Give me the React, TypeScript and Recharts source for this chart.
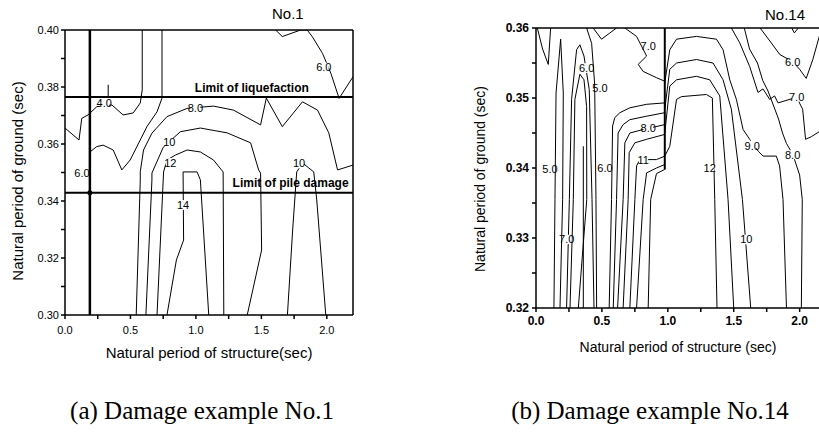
import { LineChart, Line, XAxis, YAxis, ReferenceLine, ReferenceDot } from 'recharts';

type P = [number, number];
type Lbl = [string, number, number];

const SANS = '"Liberation Sans", Arial, sans-serif';

// ---------- (a) No.1 : [natural period of structure, natural period of ground]
const n1_40: P[] = [[0, 0.3656], [0.107, 0.3614], [0.128, 0.369], [0.176, 0.3702], [0.243, 0.3731], [0.358, 0.3737], [0.444, 0.3702], [0.521, 0.3709], [0.575, 0.3744], [0.59, 0.379], [0.59, 0.4]];
const n1_60: P[] = [[0.19, 0.3572], [0.243, 0.3591], [0.291, 0.3596], [0.368, 0.3579], [0.434, 0.3509], [0.498, 0.3544], [0.626, 0.3661], [0.703, 0.3713], [0.741, 0.3761], [0.741, 0.4]];
const n1_80: P[] = [[0.544, 0.3], [0.559, 0.3228], [0.575, 0.3474], [0.575, 0.3503], [0.6, 0.3579], [0.664, 0.3638], [0.779, 0.3696], [0.933, 0.3725], [1.134, 0.3733], [1.287, 0.3719], [1.494, 0.3667], [1.538, 0.3761], [1.66, 0.3661], [1.814, 0.3748], [1.929, 0.3719], [2.015, 0.3639], [2.082, 0.3509], [2.2, 0.3526]];
const n1_100: P[] = [[0.618, 0.3], [0.664, 0.3474], [0.664, 0.3498], [0.751, 0.3589], [0.881, 0.3643], [1.034, 0.3656], [1.239, 0.3639], [1.418, 0.3604], [1.479, 0.3509], [1.494, 0.3498], [1.502, 0.3228], [1.392, 0.3]];
const n1_100b: P[] = [[1.699, 0.3], [1.739, 0.3298], [1.77, 0.3502], [1.816, 0.3533], [1.862, 0.3516], [1.9, 0.3502], [1.923, 0.3404], [1.992, 0.3]];
const n1_120: P[] = [[0.703, 0.3], [0.753, 0.3502], [0.779, 0.3544], [0.843, 0.3561], [0.933, 0.3579], [1.034, 0.3572], [1.134, 0.3544], [1.208, 0.3502], [1.213, 0.3]];
const n1_140: P[] = [[0.779, 0.3], [0.851, 0.3193], [0.906, 0.3263], [0.902, 0.3502], [1.009, 0.3502], [1.034, 0.3474], [1.098, 0.3]];
const n1_60top: P[] = [[1.609, 0.4], [1.66, 0.3977], [1.8, 0.4], [1.85, 0.4], [1.89, 0.3976], [1.967, 0.3918], [2.031, 0.3848], [2.094, 0.376], [2.2, 0.3836]];
const n1_stub: P[] = [[0.33, 0.3765], [0.33, 0.3808]];
const N1_LINES = [n1_40, n1_60, n1_80, n1_100, n1_100b, n1_120, n1_140, n1_60top, n1_stub];
const N1_LABELS: Lbl[] = [['4.0', 0.3, 0.3742], ['6.0', 0.13, 0.3498], ['8.0', 0.996, 0.3726], ['10', 0.797, 0.3607], ['12', 0.805, 0.3533], ['14', 0.902, 0.3386], ['10', 1.788, 0.3532], ['6.0', 1.977, 0.387]];
const N1_LIQ = 0.3765;
const N1_PILE = 0.3429;
const N1_TS = 0.19;
const N1_X_TICKS = [0, 0.25, 0.5, 0.75, 1, 1.25, 1.5, 1.75, 2];
const N1_Y_TICKS = [0.3, 0.31, 0.32, 0.33, 0.34, 0.35, 0.36, 0.37, 0.38, 0.39, 0.4];

// ---------- (b) No.14
const n14_v: P[] = [[0.01, 0.36], [0.05, 0.357], [0.093, 0.3548], [0.111, 0.36]];
const n14_a: P[] = [[0.136, 0.32], [0.144, 0.3355], [0.152, 0.3507], [0.187, 0.3584], [0.207, 0.3507], [0.202, 0.3355], [0.182, 0.32]];
const n14_60o: P[] = [[0.232, 0.32], [0.253, 0.3355], [0.27, 0.3498], [0.308, 0.3569], [0.333, 0.3576], [0.364, 0.356], [0.404, 0.3512], [0.425, 0.3355], [0.44, 0.32]];
const n14_60i: P[] = [[0.258, 0.32], [0.283, 0.3355], [0.295, 0.3498], [0.333, 0.3534], [0.364, 0.3526], [0.384, 0.3488], [0.385, 0.3355], [0.321, 0.32]];
const n14_spike: P[] = [[0.359, 0.32], [0.359, 0.3431]];
const n14_5top: P[] = [[0.434, 0.36], [0.497, 0.3584], [0.561, 0.3593], [0.611, 0.36]];
const n14_50: P[] = [[0.384, 0.36], [0.422, 0.3578], [0.445, 0.352], [0.455, 0.3355], [0.46, 0.32]];
const n14_70top: P[] = [[0.674, 0.36], [0.763, 0.3588], [0.839, 0.356], [0.775, 0.3548], [0.813, 0.3538], [0.914, 0.3529], [0.977, 0.3524]];
const n14_m1: P[] = [[0.555, 0.32], [0.573, 0.3355], [0.581, 0.346], [0.598, 0.3472], [0.636, 0.3479], [0.712, 0.3486], [0.839, 0.3491], [0.977, 0.3493]];
const n14_m2: P[] = [[0.586, 0.32], [0.611, 0.3355], [0.623, 0.345], [0.661, 0.3462], [0.712, 0.3469], [0.839, 0.3474], [0.977, 0.3479]];
const n14_m3: P[] = [[0.619, 0.32], [0.661, 0.3355], [0.674, 0.3436], [0.712, 0.345], [0.813, 0.3455], [0.977, 0.3462]];
const n14_m4: P[] = [[0.661, 0.32], [0.699, 0.3355], [0.707, 0.3422], [0.75, 0.3436], [0.839, 0.3441], [0.977, 0.3448]];
const n14_m5: P[] = [[0.712, 0.32], [0.75, 0.3355], [0.763, 0.3403], [0.788, 0.3412], [0.914, 0.3412], [0.977, 0.3417]];
const n14_m6: P[] = [[0.763, 0.32], [0.813, 0.3355], [0.839, 0.3393], [0.914, 0.34], [0.977, 0.3405]];
const n14_m7: P[] = [[0.851, 0.32], [0.87, 0.3355], [0.914, 0.3392], [0.977, 0.3398]];
const n14_a12: P[] = [[0.977, 0.3417], [1.015, 0.3431], [1.066, 0.3498], [1.104, 0.3502], [1.293, 0.3505], [1.338, 0.35], [1.356, 0.3355], [1.373, 0.32]];
const n14_a11: P[] = [[0.977, 0.345], [1.015, 0.3517], [1.066, 0.3526], [1.217, 0.3531], [1.318, 0.3526], [1.394, 0.3503], [1.457, 0.3355], [1.5, 0.32]];
const n14_a10: P[] = [[0.977, 0.3484], [1.015, 0.3541], [1.066, 0.355], [1.217, 0.3555], [1.343, 0.355], [1.419, 0.3526], [1.482, 0.3484], [1.566, 0.3355], [1.629, 0.32]];
const n14_a9: P[] = [[0.977, 0.3522], [1.015, 0.3569], [1.066, 0.3584], [1.217, 0.3588], [1.369, 0.3584], [1.419, 0.3569], [1.47, 0.3526], [1.52, 0.3498], [1.571, 0.3455], [1.621, 0.3441], [1.686, 0.3424], [1.723, 0.3417], [1.823, 0.3417], [1.848, 0.3403], [1.874, 0.3355], [1.9, 0.32]];
const n14_80: P[] = [[1.58, 0.36], [1.62, 0.357], [1.68, 0.355], [1.72, 0.3525], [1.76, 0.351], [1.8, 0.349], [1.84, 0.347], [1.87, 0.345], [1.9, 0.3435], [1.947, 0.342], [2.0, 0.339], [2.02, 0.3355], [2.013, 0.32]];
const n14_70: P[] = [[1.482, 0.36], [1.545, 0.3579], [1.621, 0.3545], [1.684, 0.3508], [1.722, 0.3513], [1.773, 0.3498], [1.81, 0.3503], [1.836, 0.3493], [1.977, 0.3501], [2.023, 0.3484], [2.045, 0.3441], [2.091, 0.3445], [2.2, 0.3458]];
const n14_60: P[] = [[1.7, 0.36], [1.78, 0.358], [1.85, 0.3562], [1.947, 0.3552], [2.0, 0.3541], [2.05, 0.3528], [2.1, 0.3555], [2.155, 0.3592], [2.18, 0.36]];
const n14_vtop: P[] = [[1.94, 0.36], [1.96, 0.3593], [1.99, 0.36]];
const N14_LINES = [n14_v, n14_a, n14_60o, n14_60i, n14_spike, n14_5top, n14_50, n14_70top, n14_m1, n14_m2, n14_m3, n14_m4, n14_m5, n14_m6, n14_m7, n14_a12, n14_a11, n14_a10, n14_a9, n14_80, n14_70, n14_60, n14_vtop];
const N14_LABELS: Lbl[] = [['5.0', 0.106, 0.3398], ['6.0', 0.384, 0.3543], ['5.0', 0.485, 0.3514], ['7.0', 0.851, 0.3574], ['6.0', 0.523, 0.34], ['8.0', 0.851, 0.3457], ['11', 0.813, 0.3412], ['12', 1.318, 0.34], ['10', 1.596, 0.3298], ['9.0', 1.64, 0.3432], ['8.0', 1.947, 0.3419], ['7.0', 1.977, 0.3501], ['6.0', 1.947, 0.3552], ['7.0', 0.233, 0.3298]];
const N14_JUMP: P[] = [[0.977, 0.36], [0.977, 0.3398]];
const N14_X_TICKS = [0, 0.25, 0.5, 0.75, 1, 1.25, 1.5, 1.75, 2];
const N14_Y_TICKS = [0.32, 0.325, 0.33, 0.335, 0.34, 0.345, 0.35, 0.355, 0.36];

const toPts = (a: P[]) => a.map(([x, y]) => ({ x, y }));

const contour = (a: P[], i: number, w = 1) => (
  <Line
    key={i}
    data={toPts(a)}
    dataKey="y"
    type="linear"
    stroke="#000"
    strokeWidth={w}
    dot={false}
    activeDot={false}
    isAnimationActive={false}
  />
);

const tag = (l: Lbl, i: number) => (
  <ReferenceDot
    key={'l' + i}
    x={l[1]}
    y={l[2]}
    r={5}
    fill="#fff"
    stroke="none"
    label={{ value: l[0], position: 'center', fontSize: 11, fill: '#000', stroke: 'none', fontFamily: SANS }}
  />
);

function DamageNo1() {
  return (
    <LineChart width={370} height={340} margin={{ top: 30, right: 17, left: 25, bottom: 5 }}>
      <XAxis
        type="number"
        dataKey="x"
        domain={[0, 2.2]}
        allowDataOverflow
        ticks={N1_X_TICKS}
        interval={0}
        tickFormatter={(v: number) => (Number.isInteger(v * 2) ? v.toFixed(1) : '')}
        tick={{ fontSize: 11, fill: '#000', fontFamily: SANS }}
        tickSize={4}
        tickMargin={7}
        stroke="#000"
        strokeWidth={1.5}
        height={20}
      />
      <YAxis
        type="number"
        domain={[0.3, 0.4]}
        allowDataOverflow
        ticks={N1_Y_TICKS}
        interval={0}
        tickFormatter={(v: number) => (Math.round(v * 100) % 2 === 0 ? v.toFixed(2) : '')}
        tick={{ fontSize: 11, fill: '#000', fontFamily: SANS }}
        tickSize={4}
        tickMargin={2}
        stroke="#000"
        strokeWidth={1.5}
        width={40}
      />
      <ReferenceLine y={0.4} stroke="#000" strokeWidth={1.5} />
      <ReferenceLine x={2.2} stroke="#000" strokeWidth={1.5} />
      {N1_LINES.map((c, i) => contour(c, i))}
      <ReferenceLine y={N1_LIQ} stroke="#000" strokeWidth={2} />
      <ReferenceLine y={N1_PILE} stroke="#000" strokeWidth={2} />
      <ReferenceLine x={N1_TS} stroke="#000" strokeWidth={2.5} />
      <ReferenceDot x={N1_TS} y={N1_PILE} r={2.5} fill="#000" stroke="none" />
      <ReferenceDot x={1.427} y={0.3799} r={0} fill="none" stroke="none"
        label={{ value: 'Limit of liquefaction', position: 'center', fontSize: 12, fontWeight: 700, fill: '#000', fontFamily: SANS }} />
      <ReferenceDot x={1.723} y={0.3464} r={0} fill="none" stroke="none"
        label={{ value: 'Limit of pile damage', position: 'center', fontSize: 12, fontWeight: 700, fill: '#000', fontFamily: SANS }} />
      {N1_LABELS.map(tag)}
    </LineChart>
  );
}

function DamageNo14() {
  return (
    <LineChart width={400} height={340} margin={{ top: 28, right: 4, left: 66, bottom: 12 }}>
      <XAxis
        type="number"
        dataKey="x"
        domain={[0, 2.2]}
        allowDataOverflow
        ticks={N14_X_TICKS}
        interval={0}
        tickFormatter={(v: number) => (Number.isInteger(v * 2) ? v.toFixed(1) : '')}
        tick={{ fontSize: 12, fill: '#000', fontFamily: SANS, fontWeight: 700 }}
        tickSize={4}
        tickMargin={4}
        stroke="#000"
        strokeWidth={1.5}
        height={20}
      />
      <YAxis
        type="number"
        domain={[0.32, 0.36]}
        allowDataOverflow
        ticks={N14_Y_TICKS}
        interval={0}
        tickFormatter={(v: number) => (Math.round(v * 1000) % 10 === 0 ? v.toFixed(2) : '')}
        tick={{ fontSize: 12, fill: '#000', fontFamily: SANS, fontWeight: 700 }}
        tickSize={4}
        tickMargin={3}
        stroke="#000"
        strokeWidth={1.5}
        width={40}
      />
      <ReferenceLine y={0.36} stroke="#000" strokeWidth={1.5} />
      {N14_LINES.map((c, i) => contour(c, i))}
      {contour(N14_JUMP, 99, 2)}
      {N14_LABELS.map(tag)}
    </LineChart>
  );
}

const abs = (left: number, top: number, extra: React.CSSProperties = {}): React.CSSProperties => ({
  position: 'absolute',
  left,
  top,
  whiteSpace: 'nowrap',
  color: '#000',
  ...extra,
});

export default function App() {
  return (
    <div style={{ position: 'fixed', left: 0, top: 0, width: 819, height: 439, overflow: 'hidden', background: '#fff' }}>
      <div style={abs(0, 0)}>
        <DamageNo1 />
      </div>
      <div style={abs(430, 0)}>
        <DamageNo14 />
      </div>

      <div style={abs(272, 5, { fontFamily: SANS, fontSize: 15 })}>No.1</div>
      <div style={abs(765, 6, { fontFamily: SANS, fontSize: 15 })}>No.14</div>

      <div style={abs(209, 352, { fontFamily: SANS, fontSize: 15, transform: 'translate(-50%, -50%)' })}>
        Natural period of structure(sec)
      </div>
      <div style={abs(17, 181, { fontFamily: SANS, fontSize: 15, transform: 'translate(-50%, -50%) rotate(-90deg)' })}>
        Natural period of ground (sec)
      </div>
      <div style={abs(678, 347, { fontFamily: SANS, fontSize: 14, transform: 'translate(-50%, -50%)' })}>
        Natural period of structure (sec)
      </div>
      <div style={abs(480, 179, { fontFamily: SANS, fontSize: 14, transform: 'translate(-50%, -50%) rotate(-90deg)' })}>
        Natural period of ground (sec)
      </div>

      <div style={abs(202, 411, { fontFamily: '"Liberation Serif", "Times New Roman", serif', fontSize: 25, transform: 'translate(-50%, -50%)' })}>
        (a) Damage example No.1
      </div>
      <div style={abs(650, 411, { fontFamily: '"Liberation Serif", "Times New Roman", serif', fontSize: 25, transform: 'translate(-50%, -50%)' })}>
        (b) Damage example No.14
      </div>
    </div>
  );
}
